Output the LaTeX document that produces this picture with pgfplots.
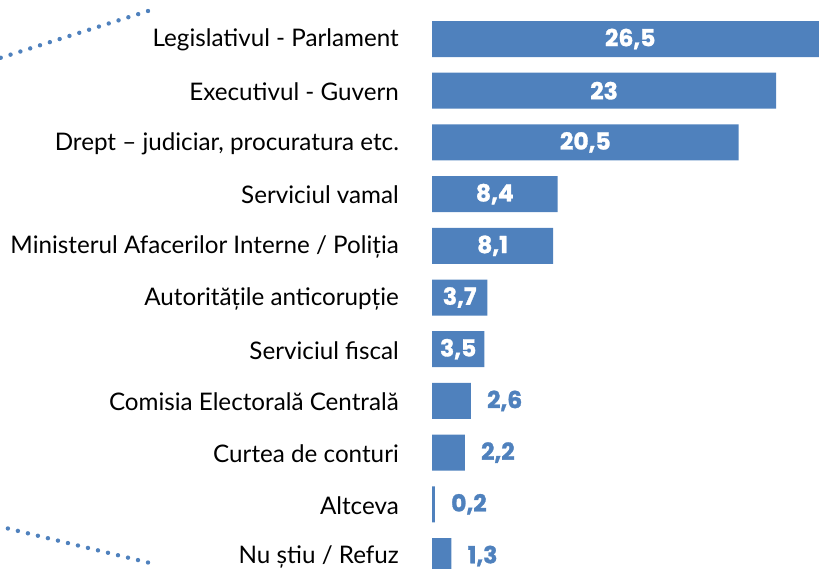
\documentclass[border=0pt]{standalone}
\usepackage{fontspec}
\setmainfont{Lato}
\newfontfamily\numfont{Poppins}[BoldFeatures={FakeBold=1.2}]
\usepackage{pgfplots}
\usepackage{pgfplotstable}
\pgfplotsset{compat=1.18}
\definecolor{barblue}{HTML}{4F81BD}

\pgfplotstableread{
y v
0 26.5
1 23
2 20.5
3 8.4
4 8.1
5 3.7
6 3.5
7 2.6
8 2.2
9 0.2
10 1.3
}\bars

\pgfplotstableread[col sep=semicolon]{
y;v;lbl
0;26.5;26,5
1;23;23
2;20.5;20,5
3;8.4;8,4
4;8.1;8,1
5;3.7;3,7
6;3.5;3,5
}\inlab

\pgfplotstableread[col sep=semicolon]{
y;v;lbl
7;2.6;2,6
8;2.2;2,2
9;0.2;0,2
10;1.3;1,3
}\outlab

\begin{document}
\begin{tikzpicture}
\useasboundingbox (0,0) rectangle (819pt,568pt);
\clip (0,0) rectangle (819pt,568pt);
% decorative dotted lines
\draw[barblue, line width=4.4pt, line cap=round, dash pattern=on 0pt off 10.3pt]
  (148pt,557pt) -- (0pt,510pt);
\draw[barblue, line width=4.4pt, line cap=round, dash pattern=on 0pt off 10.3pt]
  (148pt,5.5pt) -- (6pt,40pt);
\begin{axis}[
  at={(432pt,554.85pt)}, anchor=north west,
  scale only axis, width=400pt, height=568.7pt,
  xmin=0, xmax=26.738, ymin=-0.5, ymax=10.5, y dir=reverse,
  axis line style={draw=none},
  major tick length=0pt,
  xtick=\empty,
  ytick={0,...,10},
  yticklabels={Legislativul - Parlament, Executivul - Guvern, {Drept – judiciar, procuratura etc.}, Serviciul vamal, Ministerul Afacerilor Interne / Poliția, Autoritățile anticorupție, Serviciul fiscal, Comisia Electorală Centrală, Curtea de conturi, Altceva, Nu știu / Refuz},
  yticklabel style={anchor=east, inner sep=0pt, xshift=-33pt, yshift=-1pt, font=\fontsize{24.2}{27}\selectfont, text=black},
  clip=true,
]
\addplot[xbar, fill=barblue, draw=none, bar width=36pt] table[x=v, y=y] {\bars};
\addplot[draw=none, mark=none, nodes near coords, point meta=explicit symbolic,
  every node near coord/.style={anchor=center, text=white, font=\numfont\bfseries\fontsize{23.5}{26}\selectfont}]
  table[x expr=\thisrow{v}/2, y=y, meta=lbl] {\inlab};
\addplot[draw=none, mark=none, nodes near coords, point meta=explicit symbolic,
  every node near coord/.style={anchor=west, xshift=16pt, inner sep=0pt, text=barblue, font=\numfont\bfseries\fontsize{23.5}{26}\selectfont}]
  table[x=v, y=y, meta=lbl] {\outlab};
\end{axis}
\end{tikzpicture}
\end{document}
